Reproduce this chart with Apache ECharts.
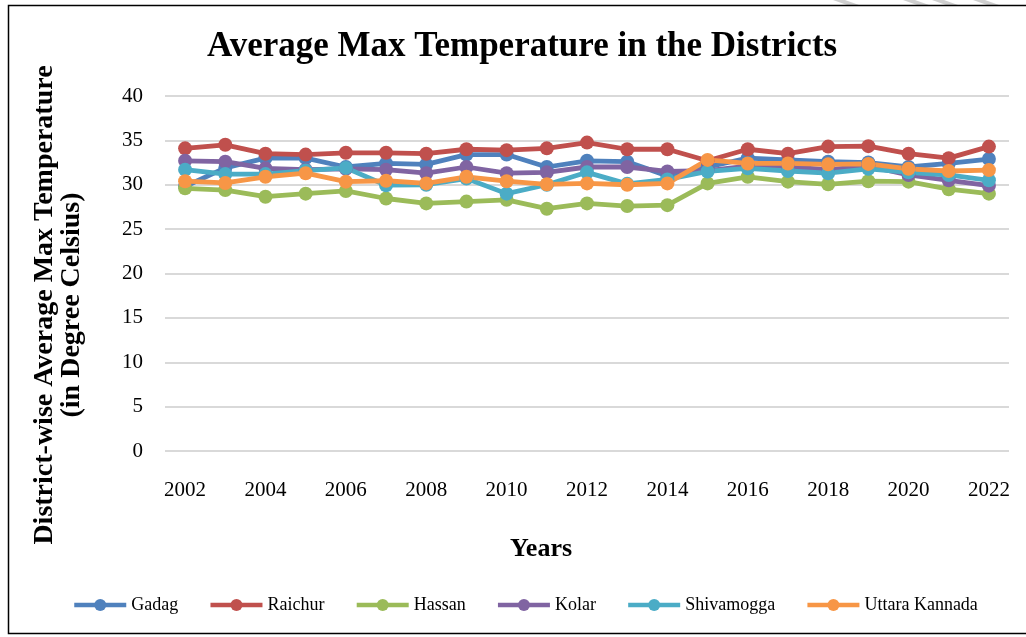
<!DOCTYPE html>
<html>
<head>
<meta charset="utf-8">
<script src="https://cdn.jsdelivr.net/npm/echarts@6/dist/echarts.min.js"></script>
<style>
  html, body { margin: 0; padding: 0; background: #fff; }
  #chart { width: 1026px; height: 637px; }
</style>
</head>
<body>
<div id="chart"></div>
<script>
const years = ['2002', '2003', '2004', '2005', '2006', '2007', '2008', '2009', '2010', '2011', '2012',
    '2013', '2014', '2015', '2016', '2017', '2018', '2019', '2020', '2021', '2022'];
const gadag = [29.8, 31.9, 33.0, 33.0, 32.0, 32.4, 32.3, 33.4, 33.4, 32.0, 32.7,
    32.6, 31.0, 32.0, 33.0, 32.8, 32.6, 32.5, 32.0, 32.4, 32.9];
const raichur = [34.1, 34.5, 33.5, 33.4, 33.6, 33.6, 33.5, 34.0, 33.9, 34.1, 34.75,
    34.0, 34.0, 32.7, 34.0, 33.5, 34.3, 34.35, 33.5, 33.0, 34.3];
const hassan = [29.6, 29.4, 28.65, 29.0, 29.3, 28.45, 27.9, 28.1, 28.3, 27.3, 27.9,
    27.6, 27.7, 30.15, 30.9, 30.35, 30.05, 30.4, 30.35, 29.5, 29.0];
const kolar = [32.7, 32.6, 31.85, 31.7, 31.8, 31.7, 31.3, 32.0, 31.3, 31.4, 32.0,
    32.0, 31.5, 31.6, 32.1, 32.0, 31.7, 32.1, 31.1, 30.5, 29.9];
const shivamogga = [31.7, 31.2, 31.2, 31.6, 31.9, 29.95, 30.0, 30.7, 29.0, 30.0, 31.4,
    30.1, 30.6, 31.5, 31.85, 31.55, 31.3, 31.8, 31.4, 31.1, 30.5];
const uttaraKannada = [30.4, 30.2, 30.9, 31.3, 30.35, 30.45, 30.15, 30.9, 30.4, 30.05, 30.15,
    30.0, 30.15, 32.8, 32.4, 32.4, 32.3, 32.35, 31.8, 31.55, 31.65];

const seriesList = [
    { name: 'Gadag', data: gadag, color: '#4F81BD' },
    { name: 'Raichur', data: raichur, color: '#C0504D' },
    { name: 'Hassan', data: hassan, color: '#9BBB59' },
    { name: 'Kolar', data: kolar, color: '#8064A2' },
    { name: 'Shivamogga', data: shivamogga, color: '#4BACC6' },
    { name: 'Uttara Kannada', data: uttaraKannada, color: '#F79646' }
];

const font = '"Liberation Serif", "Times New Roman", serif';
const chart = echarts.init(document.getElementById('chart'));

// faint hatch marks at the top right edge of the picture
const hatch = [833, 903, 932, 973].map(x => ({
    type: 'polygon',
    shape: { points: [[x, 0], [x + 12, 0], [x + 26, 5], [x + 14, 5]] },
    style: { fill: '#cfcfcf' },
    z: 90
}));

const option = {
    backgroundColor: '#fff',
    animation: false,
    title: {
        text: 'Average Max Temperature in the Districts',
        left: 202,
        top: 24,
        textStyle: { fontFamily: font, fontSize: 35, fontWeight: 'bold', color: '#000' }
    },
    legend: {
        bottom: 18,
        left: 67,
        itemWidth: 52,
        itemHeight: 15,
        itemGap: 30,
        lineStyle: { width: 4.5 },
        textStyle: { fontFamily: font, fontSize: 18, color: '#000' },
        data: seriesList.map(s => s.name)
    },
    grid: { left: 165, right: 17, top: 96, bottom: 186 },
    xAxis: {
        type: 'category',
        data: years,
        boundaryGap: true,
        axisLine: { show: false },
        axisTick: { show: false },
        axisLabel: { interval: 1, margin: 29, fontFamily: font, fontSize: 21, color: '#000' }
    },
    yAxis: {
        type: 'value',
        min: 0,
        max: 40,
        interval: 5,
        axisLine: { show: false },
        axisTick: { show: false },
        axisLabel: { margin: 22, fontFamily: font, fontSize: 21, color: '#000' },
        splitLine: { lineStyle: { color: '#d9d9d9', width: 2 } }
    },
    graphic: hatch.concat([
        {
            type: 'rect',
            shape: { x: 8.5, y: 5.5, width: 1030, height: 628 },
            style: { fill: 'none', stroke: '#000', lineWidth: 1.5 },
            z: 100
        },
        {
            type: 'text',
            x: 45, y: 305,
            rotation: Math.PI / 2,
            style: {
                text: 'District-wise Average Max Temperature',
                fontFamily: font, fontSize: 28, fontWeight: 'bold', fill: '#000',
                textAlign: 'center', textVerticalAlign: 'middle'
            }
        },
        {
            type: 'text',
            x: 72, y: 305,
            rotation: Math.PI / 2,
            style: {
                text: '(in Degree Celsius)',
                fontFamily: font, fontSize: 28, fontWeight: 'bold', fill: '#000',
                textAlign: 'center', textVerticalAlign: 'middle'
            }
        },
        {
            type: 'text',
            x: 541, y: 549,
            style: {
                text: 'Years',
                fontFamily: font, fontSize: 26, fontWeight: 'bold', fill: '#000',
                textAlign: 'center', textVerticalAlign: 'middle'
            }
        }
    ]),
    series: seriesList.map(s => ({
        name: s.name,
        type: 'line',
        data: s.data,
        symbol: 'circle',
        symbolSize: 14,
        lineStyle: { width: 4.8, color: s.color },
        itemStyle: { color: s.color },
        emphasis: { disabled: true }
    }))
};

chart.setOption(option);
</script>
</body>
</html>
